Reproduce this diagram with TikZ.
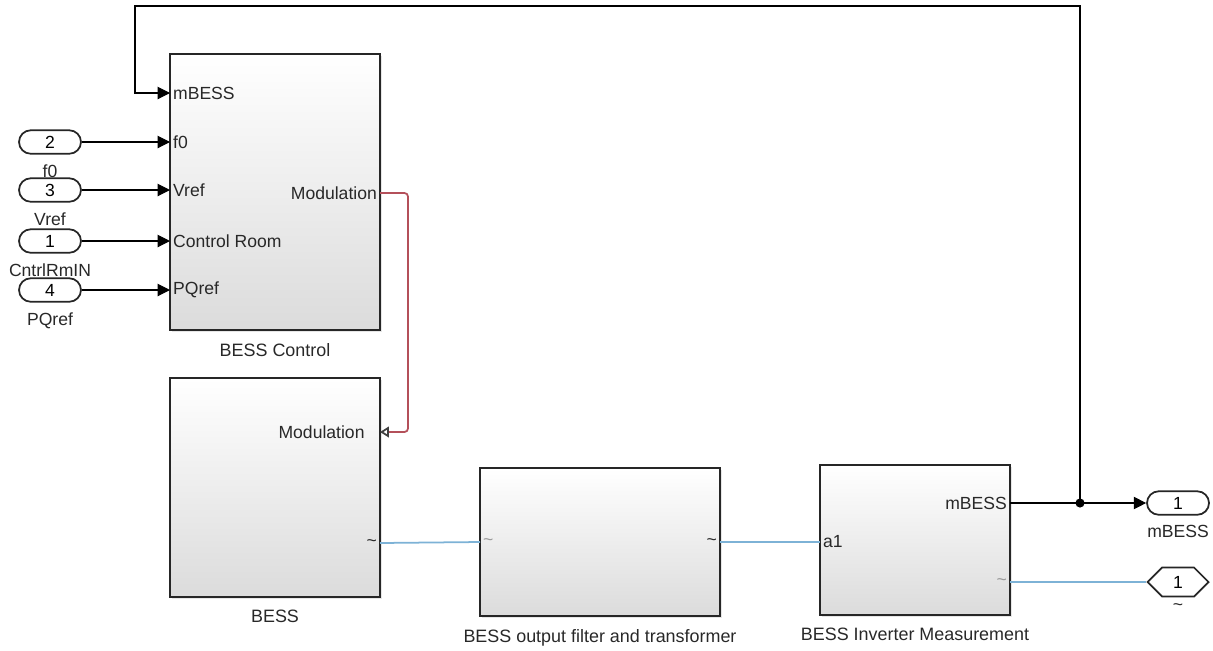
\documentclass[tikz,border=0pt]{standalone}
\usepackage{fontspec}
\setmainfont{Liberation Sans}
\usetikzlibrary{arrows.meta,positioning,shapes.misc,shapes.symbols,shadows}
\definecolor{redwire}{RGB}{180,80,90}
\definecolor{bluewire}{RGB}{125,178,214}
\definecolor{txt}{RGB}{40,40,40}
\tikzset{
	blk/.style={draw=black!85, line width=1pt, top color=white, bottom color=black!14,
		drop shadow={shadow xshift=1.2pt, shadow yshift=-1.2pt, opacity=0.2}, inner sep=0pt},
	blkname/.style={below=3.5pt of #1, text=txt, font=\fontsize{10.2}{12}\selectfont},
	prt/.style={inner sep=1.6pt, text=txt},
	iop/.style={draw=black!85, line width=1pt, rounded rectangle, minimum width=1.24cm,
		minimum height=0.47cm, inner sep=0pt, fill=white},
	gto/.style={draw=black!85, line width=1pt, signal, signal to=west and east,
		minimum width=1.22cm, minimum height=0.58cm, inner sep=0pt, fill=white},
	wire/.style={draw=black, line width=0.6pt},
	sig/.style={wire, -{Triangle[length=7pt, width=7pt]}},
	acw/.style={draw=bluewire, line width=1pt},
	modw/.style={draw=redwire, line width=1pt, rounded corners=2pt,
		-{Triangle[open, length=5pt, width=6pt, color=black!75]}}
}
\newcommand{\inport}[4]{\node[iop, label={[text=txt, label distance=2.5pt]below:#4}] (#1) at (50,#2) {#3}}

\begin{document}
\begin{tikzpicture}[x=0.02cm, y=-0.02cm, font=\fontsize{10}{12}\selectfont]
\useasboundingbox (0,0) rectangle (1213,650);
%Blocks
	\node[blk, minimum width=4.2cm, minimum height=5.52cm] (ctrl) at (275,192) {};
	\node[blk, minimum width=4.2cm, minimum height=4.38cm] (bess) at (275,487.5) {};
	\node[blk, minimum width=4.8cm, minimum height=2.96cm] (filt) at (600,542) {};
	\node[blk, minimum width=3.8cm, minimum height=3.0cm] (meas) at (915,540) {};
	\node[blkname=ctrl] (ctrlname) {BESS Control};
	\node[blkname=bess] (bessname) {BESS};
	\node[blkname=filt] (filtname) {BESS output filter and transformer};
	\node[blkname=meas] (measname) {BESS Inverter Measurement};
%Ports of the blocks
	\coordinate (ctrl-mb) at (170,93);
	\coordinate (ctrl-f0) at (170,142);
	\coordinate (ctrl-vr) at (170,190);
	\coordinate (ctrl-cr) at (170,241);
	\coordinate (ctrl-pq) at (170,290);
	\coordinate (ctrl-mod) at (380,193);
	\coordinate (bess-mod) at (380,432);
	\coordinate (bess-ac) at (380,543);
	\coordinate (filt-in) at (480,542);
	\coordinate (filt-out) at (720,542);
	\coordinate (meas-a1) at (820,542);
	\coordinate (meas-mb) at (1010,503);
	\coordinate (meas-ac) at (1010,582);
	\node[prt, anchor=west] (lmb) at (ctrl-mb) {mBESS};
	\node[prt, anchor=west] (lf0) at (ctrl-f0) {f0};
	\node[prt, anchor=west] (lvr) at (ctrl-vr) {Vref};
	\node[prt, anchor=west] (lcr) at (ctrl-cr) {Control Room};
	\node[prt, anchor=west] (lpq) at (ctrl-pq) {PQref};
	\node[prt, anchor=east] (lmod) at (ctrl-mod) {Modulation};
	\node[prt, anchor=east, xshift=-7pt] (lbmod) at (bess-mod) {Modulation};
	\node[prt, anchor=east] (lbac) at (bess-ac) {\textasciitilde};
	\node[prt, anchor=west, text=black!40] (lfin) at (filt-in) {\textasciitilde};
	\node[prt, anchor=east] (lfout) at (filt-out) {\textasciitilde};
	\node[prt, anchor=west] (la1) at (meas-a1) {a1};
	\node[prt, anchor=east] (lmmb) at (meas-mb) {mBESS};
	\node[prt, anchor=east, text=black!40] (lmac) at (meas-ac) {\textasciitilde};
%Inports and outports
	\inport{in2}{142}{2}{f0};
	\inport{in3}{190}{3}{Vref};
	\inport{in1}{241}{1}{CntrlRmIN};
	\inport{in4}{290}{4}{PQref};
	\node[iop, label={[text=txt, label distance=2pt]below:mBESS}] (outm) at (1178,503) {1};
	\node[gto, label={[text=txt, label distance=0pt]below:\textasciitilde}] (gac) at (1178,582) {1};
%Signal lines
	\draw[sig] (in2.east) -- (ctrl-f0);
	\draw[sig] (in3.east) -- (ctrl-vr);
	\draw[sig] (in1.east) -- (ctrl-cr);
	\draw[sig] (in4.east) -- (ctrl-pq);
	\coordinate (jn) at (1080,503);
	\coordinate (tl) at (135,6);
	\draw[wire] (meas-mb) -- (jn);
	\draw[sig] (jn) -- (outm.west);
	\draw[sig] (jn) |- (tl) |- (ctrl-mb);
	\fill (jn) circle (2.6pt);
	\coordinate (bend) at (408,432);
	\draw[modw] (ctrl-mod) -| (bend) -- (bess-mod);
%Physical lines
	\draw[acw] (bess-ac) -- (filt-in);
	\draw[acw] (filt-out) -- (meas-a1);
	\draw[acw] (meas-ac) -- (gac.west);
\end{tikzpicture}
\end{document}
